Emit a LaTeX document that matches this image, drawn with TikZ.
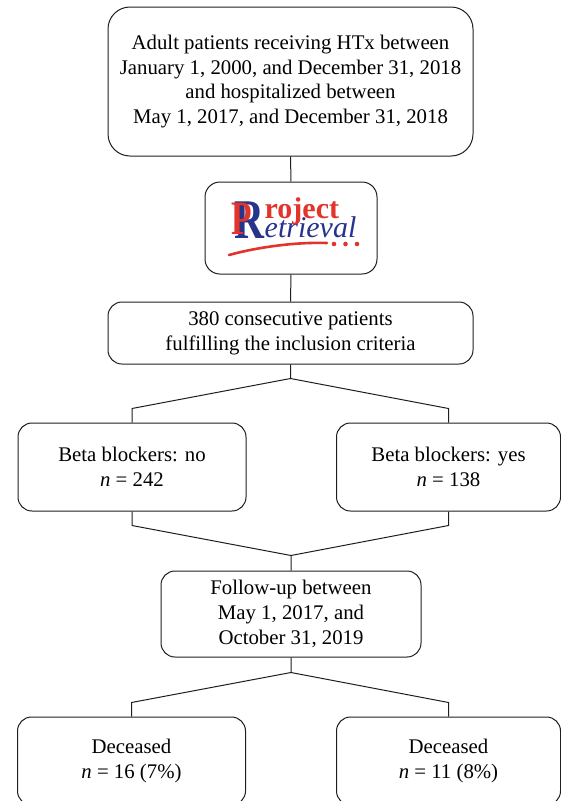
\documentclass[tikz,border=0pt]{standalone}
\usepackage{fontspec}
\setmainfont{Liberation Serif}
\definecolor{logored}{RGB}{226,52,42}
\definecolor{logoblue}{RGB}{38,52,140}
\definecolor{ink}{RGB}{30,30,30}
\begin{document}
\begin{tikzpicture}[x=1pt,y=-1pt,
  box/.style={draw=ink, line width=1pt, rounded corners=14pt, align=center,
    inner sep=0pt, text=black, font=\fontsize{20.8}{24.8}\selectfont},
  link/.style={draw=ink, line width=1pt},
  logotext/.style={inner sep=0pt, anchor=base west}]
\useasboundingbox (0,0) rectangle (561,801);
\clip (0,0) rectangle (561,801);

\node[box, minimum width=365pt, minimum height=149pt, rounded corners=22pt] (top) at (290.5,81.5)
  {Adult patients receiving HTx between\\January 1, 2000, and December 31, 2018\\and hospitalized between\\May 1, 2017, and December 31, 2018};

\node[box, minimum width=172pt, minimum height=92pt, rounded corners=15pt] (logo) at (291,228) {};
\node[logotext, font=\fontsize{56}{56}\selectfont\bfseries] (bigRP) at (234,238)
  {{\color{logoblue}\scalebox{0.74}[1]{R}}\llap{\raisebox{4pt}{\color{logored}\fontsize{48}{48}\selectfont\scalebox{0.7}[1]{P}}\kern12pt}};
\node[logotext] (words) at (264.5,218)
  {\rlap{\raisebox{-19pt}{\fontsize{30}{30}\selectfont\itshape\color{logoblue}etrieval}}{\fontsize{30}{30}\selectfont\bfseries\color{logored}roject}};
\draw[logored, line width=2.6pt, line cap=round] (229,255) .. controls (262,246) and (300,242) .. (327,243);
\fill[logored] (334,244) circle (2.3pt) (345.5,244) circle (2.3pt) (357,244) circle (2.3pt);

\node[box, minimum width=365pt, minimum height=62pt] (incl) at (290.5,333)
  {380 consecutive patients\\fulfilling the inclusion criteria};

\node[box, minimum width=228pt, minimum height=88pt] (bno) at (132,467)
  {Beta blockers: no\\\textit{n} = 242};
\node[box, minimum width=224pt, minimum height=88pt] (byes) at (448.5,467)
  {Beta blockers: yes\\\textit{n} = 138};

\node[box, minimum width=260pt, minimum height=86pt] (fu) at (291,614)
  {Follow-up between\\May 1, 2017, and\\October 31, 2019};

\node[box, minimum width=228pt, minimum height=88pt] (dl) at (131.5,761)
  {Deceased\\\textit{n} = 16 (7\%)};
\node[box, minimum width=224pt, minimum height=88pt] (dr) at (448.5,761)
  {Deceased\\\textit{n} = 11 (8\%)};

\draw[link] (top.south) -- (logo.north);
\draw[link] (logo.south) -- (incl.north);
\draw[link] (incl.south) -- ++(0,14) coordinate (s1) -- ([yshift=14pt]bno.north) -- (bno.north);
\draw[link] (s1) -- ([yshift=14pt]byes.north) -- (byes.north);
\draw[link] (bno.south) -- ([yshift=-14pt]bno.south) -- ([yshift=15pt]fu.north) coordinate (s2) -- (fu.north);
\draw[link] (byes.south) -- ([yshift=-14pt]byes.south) -- (s2);
\draw[link] (fu.south) -- ++(0,15) coordinate (s3) -- ([yshift=14pt]dl.north) -- (dl.north);
\draw[link] (s3) -- ([yshift=14pt]dr.north) -- (dr.north);
\end{tikzpicture}
\end{document}
